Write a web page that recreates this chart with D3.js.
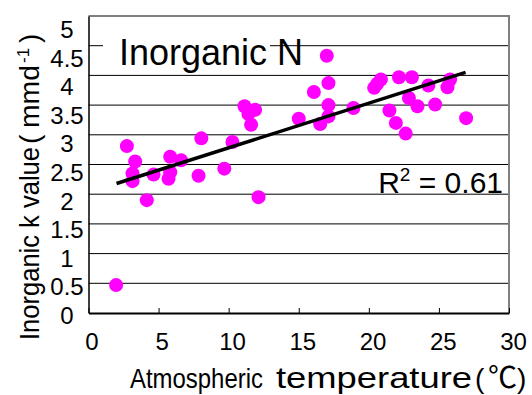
<!DOCTYPE html>
<html><head><meta charset="utf-8">
<script src="https://cdn.jsdelivr.net/npm/d3@7"></script>
<style>
html,body{margin:0;padding:0;background:#fff;}
svg{display:block;}
text{font-family:"Liberation Sans",Arial,sans-serif;fill:#000;}
.cjk{font-family:"Noto Sans CJK JP",sans-serif;}
</style></head>
<body>
<svg id="chart" width="532" height="395"></svg>
<script>
// ---- data ----
const temps   = [1.97, 2.74, 3.33, 3.14, 3.14, 4.16, 4.64, 5.83, 6.61, 5.83, 5.71, 7.85, 8.05, 9.69, 10.27, 12.13,
                 11.13, 11.89, 11.41, 11.6, 15.0, 16.08, 17.0, 17.12, 17.12, 17.12, 16.53, 18.9, 20.38, 20.6, 20.86,
                 22.15, 21.47, 21.93, 22.63, 23.07, 22.86, 23.47, 24.25, 24.73, 25.61, 25.8, 26.94];
const kValues = [0.47, 2.81, 2.55, 2.35, 2.22, 1.90, 2.33, 2.63, 2.57, 2.37, 2.26, 2.31, 2.94, 2.43, 2.88, 1.95,
                 3.48, 3.42, 3.35, 3.17, 3.27, 3.72, 4.33, 3.87, 3.50, 3.31, 3.18, 3.45, 3.79, 3.86, 3.93,
                 3.97, 3.41, 3.20, 3.02, 3.97, 3.62, 3.48, 3.83, 3.51, 3.80, 3.93, 3.28];
const fitX = [2.0, 26.9];
const fitY = [2.18, 4.05];
const xTickValues = [0, 5, 10, 15, 20, 25, 30];
const xTickLabels = ["0", "5", "10", "15", "20", "25", "30"];
const yTickValues = [0, 0.5, 1, 1.5, 2, 2.5, 3, 3.5, 4, 4.5, 5];
const yTickLabels = ["0", "0.5", "1", "1.5", "2", "2.5", "3", "3.5", "4", "4.5", "5"];
const titleText = "Inorganic N";
const r2Text = ["R", "2", " = 0.61"];

// ---- layout ----
const L = 88.5, R = 509, T = 16, B = 313;
const svg = d3.select("#chart");
const x = d3.scaleLinear().domain([0, 30]).range([L, R]);
const y = d3.scaleLinear().domain([0, 5]).range([B, T]);
// label positions (labels in the original drift slightly from the gridlines)
const yLab = d3.scaleLinear().domain([0, 5]).range([B + 11, T + 22]);
const xLab = d3.scaleLinear().domain([0, 30]).range([L + 3.5, R + 4.5]);

// gridlines
svg.append("g").selectAll("line").data(yTickValues.filter(v => v > 0 && v < 5)).join("line")
  .attr("x1", L).attr("x2", R).attr("y1", d => y(d)).attr("y2", d => y(d))
  .attr("stroke", "#000").attr("stroke-width", 1);

// title box (covers gridline)
svg.append("rect").attr("x", 103).attr("y", 24).attr("width", 167).attr("height", 46).attr("fill", "#fff");

// top/right border
svg.append("path").attr("d", `M${L},${T}H${R}V${B}`).attr("fill", "none")
  .attr("stroke", "#808080").attr("stroke-width", 2);

// axes
const xAxis = svg.append("g").attr("transform", `translate(0,${B})`)
  .call(d3.axisBottom(x).tickValues(xTickValues).tickSizeInner(-5).tickSizeOuter(0).tickFormat(""));
xAxis.select(".domain").attr("stroke", "#000").attr("stroke-width", 2);
xAxis.selectAll(".tick line").attr("stroke", "#000");
const yAxis = svg.append("g").attr("transform", `translate(${L},0)`)
  .call(d3.axisLeft(y).tickValues(yTickValues).tickSize(0).tickFormat(""));
yAxis.select(".domain").attr("stroke", "#000").attr("stroke-width", 1.5);

// tick labels
svg.append("g").selectAll("text").data(xTickValues).join("text")
  .attr("x", d => xLab(d)).attr("y", 350).attr("text-anchor", "middle")
  .style("font-size", "24px").text((d, i) => xTickLabels[i]);
svg.append("g").selectAll("text").data(yTickValues).join("text")
  .attr("x", 67).attr("y", d => yLab(d)).attr("text-anchor", "middle")
  .style("font-size", "24px").text((d, i) => yTickLabels[i]);

// points
svg.append("g").selectAll("circle").data(temps).join("circle")
  .attr("cx", d => x(d)).attr("cy", (d, i) => y(kValues[i])).attr("r", 7)
  .attr("fill", "#FF00FF");

// regression line
svg.append("line").attr("x1", x(fitX[0])).attr("y1", y(fitY[0]))
  .attr("x2", x(fitX[1])).attr("y2", y(fitY[1]))
  .attr("stroke", "#000").attr("stroke-width", 3.5);

// title
svg.append("text").attr("x", 119).attr("y", 65).style("font-size", "37px")
  .attr("textLength", 184).attr("lengthAdjust", "spacingAndGlyphs").text(titleText);

// R2
const r2 = svg.append("text").attr("x", 503).attr("y", 193).attr("text-anchor", "end").style("font-size", "30px");
r2.append("tspan").text(r2Text[0]);
r2.append("tspan").attr("dy", -12).style("font-size", "19px").text(r2Text[1]);
r2.append("tspan").attr("dy", 12).text(r2Text[2]);

// x title
svg.append("text").attr("x", 130).attr("y", 388).style("font-size", "28px")
  .attr("textLength", 133).attr("lengthAdjust", "spacingAndGlyphs").text("Atmospheric");
svg.append("text").attr("x", 276).attr("y", 388).style("font-size", "29px")
  .attr("textLength", 196).attr("lengthAdjust", "spacingAndGlyphs").text("temperature");
svg.append("text").attr("x", 475).attr("y", 388).style("font-size", "28px").text("(");
svg.append("text").attr("class", "cjk").attr("x", 488).attr("y", 388).style("font-size", "29px").text("℃");
svg.append("text").attr("x", 517).attr("y", 388).style("font-size", "28px").text(")");

// y title
const yt = svg.append("g").attr("transform", "translate(39,340) rotate(-90)");
yt.append("text").attr("x", 0).attr("y", 0).style("font-size", "28px")
  .attr("textLength", 193).attr("lengthAdjust", "spacingAndGlyphs").text("Inorganic k value");
yt.append("text").attr("x", 196).attr("y", 0).style("font-size", "28px").text("(");
yt.append("text").attr("x", 212).attr("y", 0).style("font-size", "28px")
  .attr("textLength", 63).attr("lengthAdjust", "spacingAndGlyphs").text("mmd");
yt.append("text").attr("x", 277).attr("y", -10).style("font-size", "17px").text("-1");
yt.append("text").attr("x", 297).attr("y", 0).style("font-size", "28px").text(")");
</script>
</body></html>
